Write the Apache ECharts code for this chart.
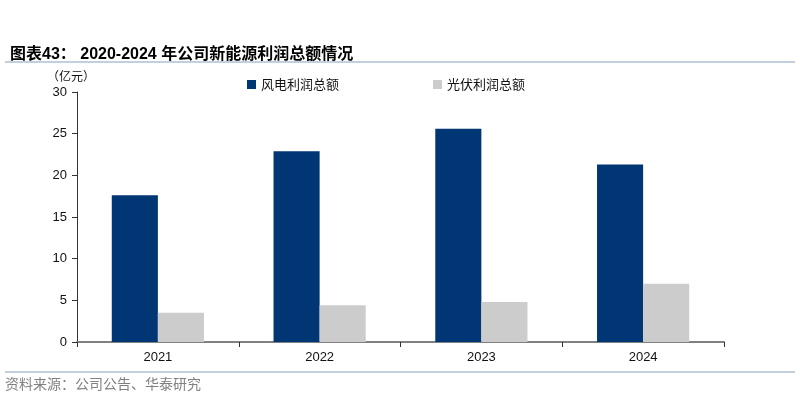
<!DOCTYPE html>
<html>
<head>
<meta charset="utf-8">
<script src="https://cdn.jsdelivr.net/npm/echarts@6/dist/echarts.min.js"></script>
<style>
  html, body { margin: 0; padding: 0; background: #fff; }
  #box { width: 800px; height: 398px; }
</style>
</head>
<body>
<div id="box"></div>
<script>
var years = ['2021', '2022', '2023', '2024'];
var windProfit = [17.6, 22.9, 25.6, 21.3];
var solarProfit = [3.5, 4.4, 4.8, 7.0];
var yTicks = [0, 5, 10, 15, 20, 25, 30];

var dom = document.getElementById('box');
var myChart = echarts.init(dom);
var option = {
  animation: false,
  backgroundColor: '#fff',
  title: {
    text: '图表43： 2020-2024 年公司新能源利润总额情况',
    left: 5,
    top: 42,
    textStyle: {
      fontFamily: 'Liberation Sans, Noto Sans CJK SC',
      fontSize: 16,
      fontWeight: 'bold',
      color: '#000'
    }
  },
  graphic: [
    { type: 'line', shape: { x1: 5, y1: 62, x2: 795, y2: 62 }, style: { stroke: '#c3cfdd', lineWidth: 2 } },
    { type: 'line', shape: { x1: 5, y1: 372, x2: 795, y2: 372 }, style: { stroke: '#c3cfdd', lineWidth: 2 } },
    { type: 'text', left: 5, top: 377, style: { text: '资料来源：公司公告、华泰研究', fill: '#808080', font: '14px "Noto Sans CJK SC"' } },
    { type: 'text', left: 47, top: 70, style: { text: '（亿元）', fill: '#111', font: '12px "Noto Sans CJK SC"' } }
  ],
  legend: {
    left: 242,
    top: 73,
    icon: 'rect',
    itemWidth: 9,
    itemHeight: 9,
    itemGap: 94,
    textStyle: { fontFamily: 'Noto Sans CJK SC', fontSize: 13, color: '#111' },
    data: ['风电利润总额', '光伏利润总额']
  },
  grid: { left: 77, right: 76, top: 92, bottom: 56 },
  xAxis: {
    type: 'category',
    data: years,
    axisLine: { lineStyle: { color: '#808080', width: 2 } },
    axisTick: { show: true, length: 5, lineStyle: { color: '#333' } },
    axisLabel: { color: '#111', fontSize: 13, fontFamily: 'Liberation Sans', margin: 9 }
  },
  yAxis: {
    type: 'value',
    min: yTicks[0],
    max: yTicks[yTicks.length - 1],
    interval: 5,
    splitLine: { show: false },
    axisLine: { show: true, lineStyle: { color: '#333' } },
    axisTick: { show: true, length: 5, lineStyle: { color: '#333' } },
    axisLabel: { color: '#111', fontSize: 13, fontFamily: 'Liberation Sans', margin: 10 }
  },
  series: [
    {
      name: '风电利润总额',
      type: 'bar',
      data: windProfit,
      barGap: '0%',
      barCategoryGap: '43%',
      itemStyle: { color: '#003674' }
    },
    {
      name: '光伏利润总额',
      type: 'bar',
      data: solarProfit,
      itemStyle: { color: '#cccccc' }
    }
  ]
};
myChart.setOption(option);
</script>
</body>
</html>
